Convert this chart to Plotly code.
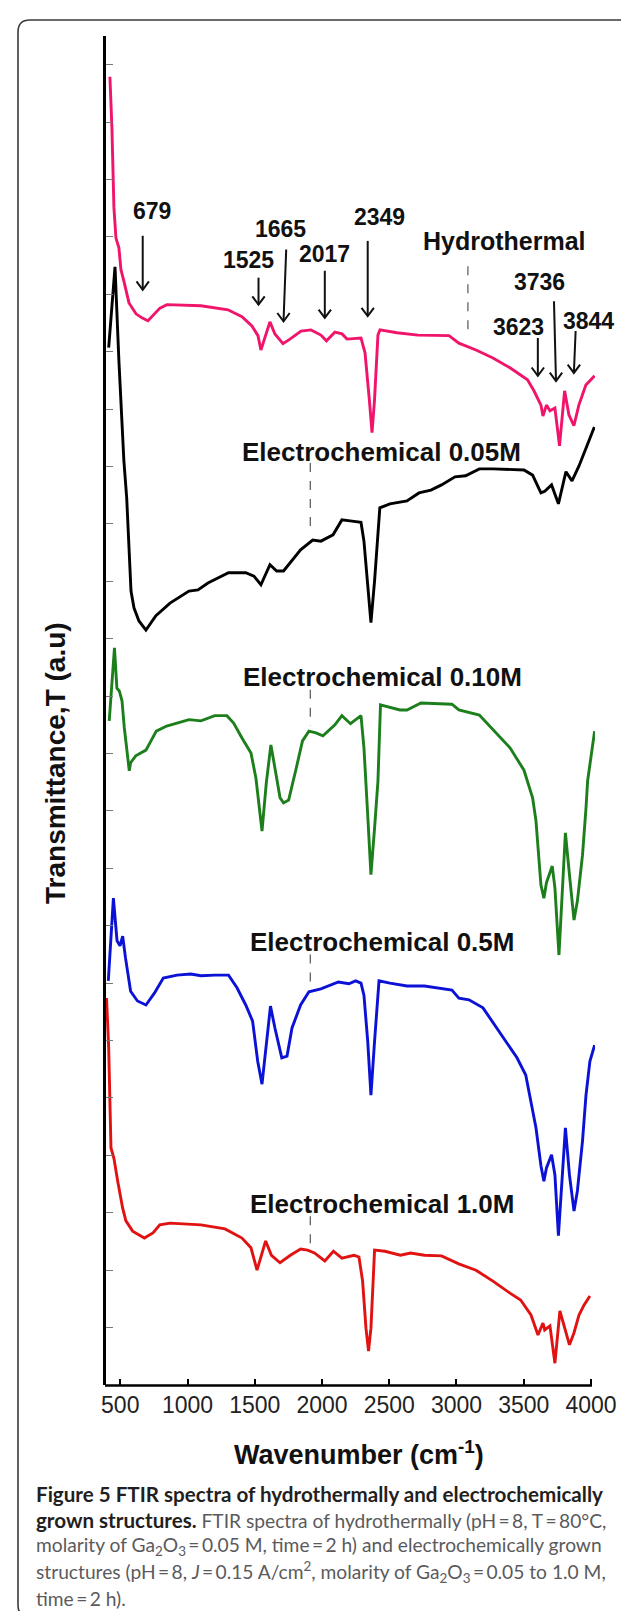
import plotly.graph_objects as go

# ---------------- data (wavenumber cm^-1, transmittance a.u. with stacking offset) ----------------
hydro_wn = [423, 438, 453, 468, 490, 505, 527, 565, 617, 661, 706, 795, 847, 1100, 1301, 1405, 1479, 1524, 1546, 1583,
            1613, 1650, 1710, 1762, 1844, 1918, 1992, 2033, 2096, 2149, 2186, 2290, 2320, 2353, 2372, 2390, 2416, 2431,
            2558, 2713, 2892, 2944, 3018, 3145, 3271, 3398, 3528, 3576, 3628, 3643, 3669, 3695, 3732, 3766, 3804, 3836,
            3873, 3910, 3962, 4027]
hydro_t = [22.79, 21.90, 20.51, 19.98, 19.81, 19.43, 19.23, 18.85, 18.66, 18.59, 18.54, 18.76, 18.82, 18.80, 18.73,
           18.61, 18.45, 18.28, 18.03, 18.29, 18.52, 18.31, 18.14, 18.22, 18.36, 18.38, 18.29, 18.19, 18.34, 18.31,
           18.22, 18.24, 17.98, 17.14, 16.59, 17.14, 18.29, 18.38, 18.33, 18.29, 18.28, 18.28, 18.15, 18.03, 17.89,
           17.72, 17.51, 17.32, 17.07, 16.88, 17.07, 16.97, 17.02, 16.36, 17.32, 16.90, 16.71, 17.07, 17.42, 17.58]

ec005_wn = [414, 461, 490, 527, 548, 565, 580, 602, 639, 691, 765, 870, 1011, 1078, 1152, 1305, 1433, 1494, 1546, 1613,
            1663, 1714, 1762, 1841, 1931, 1992, 2082, 2148, 2223, 2290, 2312, 2340, 2364, 2391, 2430, 2505, 2632, 2721,
            2810, 2889, 2989, 3068, 3170, 3271, 3502, 3566, 3628, 3656, 3707, 3758, 3814, 3859, 3911, 3963, 4025]
ec005_t = [18.07, 19.48, 17.84, 16.10, 15.45, 14.49, 13.83, 13.54, 13.31, 13.15, 13.40, 13.62, 13.83, 13.85, 13.97,
           14.15, 14.15, 14.09, 13.94, 14.29, 14.18, 14.18, 14.32, 14.55, 14.72, 14.70, 14.81, 15.07, 15.05, 15.03,
           14.70, 14.01, 13.28, 14.01, 15.28, 15.35, 15.40, 15.54, 15.59, 15.68, 15.82, 15.84, 15.96, 15.96, 15.94,
           15.85, 15.54, 15.57, 15.68, 15.35, 15.91, 15.75, 16.01, 16.32, 16.69]

ec010_wn = [418, 457, 475, 493, 513, 530, 567, 577, 615, 691, 768, 845, 922, 1011, 1100, 1203, 1293, 1343, 1405, 1472,
            1509, 1535, 1554, 1586, 1620, 1650, 1688, 1714, 1752, 1804, 1855, 1903, 1955, 2007, 2096, 2148, 2212, 2290,
            2312, 2340, 2364, 2391, 2416, 2435, 2580, 2632, 2736, 2966, 3018, 3170, 3271, 3398, 3502, 3566, 3591, 3628,
            3650, 3669, 3712, 3732, 3762, 3810, 3840, 3874, 3899, 3937, 3963, 3975, 4027]
ec010_t = [11.57, 12.84, 12.14, 12.09, 11.92, 11.45, 10.70, 10.84, 10.96, 11.06, 11.39, 11.48, 11.53, 11.59, 11.57,
           11.66, 11.66, 11.53, 11.27, 11.01, 10.57, 10.05, 9.65, 10.49, 11.15, 10.75, 10.23, 10.14, 10.19, 10.70,
           11.22, 11.39, 11.36, 11.31, 11.50, 11.66, 11.52, 11.66, 11.10, 9.93, 8.89, 9.70, 10.52, 11.85, 11.76,
           11.76, 11.88, 11.86, 11.76, 11.67, 11.41, 11.10, 10.71, 10.23, 9.83, 8.71, 8.48, 8.75, 9.04, 8.66,
           7.49, 9.62, 8.89, 8.10, 8.43, 9.23, 10.05, 10.52, 11.39]

ec05_wn = [411, 449, 476, 498, 518, 539, 577, 628, 691, 755, 820, 922, 1024, 1100, 1203, 1305, 1368, 1433, 1484, 1522,
           1554, 1586, 1617, 1650, 1701, 1740, 1777, 1841, 1903, 1992, 2122, 2200, 2250, 2290, 2312, 2340, 2364, 2391,
           2424, 2505, 2632, 2762, 2889, 2966, 3018, 3093, 3197, 3271, 3349, 3450, 3515, 3554, 3591, 3628, 3650, 3669,
           3707, 3732, 3758, 3810, 3840, 3874, 3899, 3937, 3963, 3992, 4027]
ec05_t = [7.04, 8.48, 7.74, 7.65, 7.82, 7.44, 6.86, 6.69, 6.62, 6.83, 7.09, 7.14, 7.16, 7.13, 7.14, 7.14, 6.92, 6.62,
          6.34, 5.64, 5.24, 5.99, 6.60, 6.22, 5.70, 5.73, 6.22, 6.62, 6.85, 6.90, 7.02, 6.99, 7.04, 7.00, 6.79, 5.99,
          5.05, 5.99, 7.04, 7.00, 6.95, 6.95, 6.90, 6.88, 6.74, 6.71, 6.57, 6.31, 6.05, 5.70, 5.40, 4.95, 4.48, 3.82,
          3.55, 3.78, 4.01, 3.66, 2.60, 4.48, 3.66, 3.03, 3.38, 4.25, 5.05, 5.64, 5.92]

ec10_wn = [398, 414, 431, 453, 481, 518, 542, 592, 679, 743, 794, 870, 1100, 1279, 1405, 1472, 1517, 1581, 1624, 1688,
           1765, 1841, 1893, 1944, 2021, 2085, 2148, 2238, 2275, 2302, 2327, 2346, 2364, 2391, 2468, 2583, 2659, 2762,
           2889, 2928, 3017, 3145, 3271, 3398, 3477, 3554, 3606, 3643, 3656, 3695, 3732, 3769, 3804, 3840, 3874, 3911,
           3948, 3992]
ec10_t = [6.74, 5.87, 4.13, 3.95, 3.55, 3.08, 2.86, 2.68, 2.56, 2.65, 2.79, 2.82, 2.79, 2.72, 2.56, 2.39, 2.00, 2.51,
          2.26, 2.13, 2.26, 2.37, 2.35, 2.30, 2.16, 2.33, 2.21, 2.26, 2.23, 1.81, 0.99, 0.59, 0.99, 2.35, 2.33, 2.26,
          2.30, 2.26, 2.25, 2.21, 2.11, 2.00, 1.81, 1.60, 1.48, 1.22, 0.87, 1.08, 0.96, 1.03, 0.38, 1.29, 0.99, 0.70,
          0.91, 1.22, 1.39, 1.55]

x_ticks = [500, 1000, 1500, 2000, 2500, 3000, 3500, 4000]
x_tick_text = ["500", "1000", "1500", "2000", "2500", "3000", "3500", "4000"]

# peak labels: text, label position (wn, T), arrow tail (wn, T), arrow tip (wn, T)
peak_labels = ["679", "1525", "1665", "2017", "2349", "3623", "3736", "3844"]
peak_label_pos = [(736, 20.45), (1457, 19.60), (1688, 20.14), (2022, 19.71), (2424, 20.35),
                  (3463, 18.43), (3621, 19.22), (3983, 18.54)]
arrow_tail = [(667, 20.02), (1528, 19.29), (1734, 19.78), (2021, 19.41), (2340, 19.93),
              (3605, 18.24), (3725, 18.88), (3886, 18.36)]
arrow_tip = [(667, 19.08), (1528, 18.82), (1714, 18.53), (2021, 18.59), (2340, 18.62),
             (3605, 17.58), (3740, 17.49), (3873, 17.63)]

# series names, label positions, dashed leader lines (wn, T top, T bottom)
series_labels = ["Hydrothermal", "Electrochemical 0.05M", "Electrochemical 0.10M",
                 "Electrochemical 0.5M", "Electrochemical 1.0M"]
series_label_pos = [(3355, 19.93), (2446, 16.26), (2449, 12.33), (2446, 7.72), (2446, 3.15)]
leader_lines = [(3085, 19.49, 18.29), (1913, 16.06, 14.83), (1913, 12.11, 11.48),
                (1913, 7.50, 6.92), (1913, 2.94, 2.39)]

DARK = "#231F20"
GRAY = "#5a5a5c"
BOLD_SIZE = 20.6
REG_SIZE = 19.2
bold = lambda s: "<span style='font-size:%.1fpx;color:%s'><b>%s</b></span>" % (BOLD_SIZE, DARK, s)
caption_lines = [
    bold("Figure 5 FTIR spectra of hydrothermally and electrochemically"),
    bold("grown structures.") + " FTIR spectra of hydrothermally (pH\u2009=\u20098, T\u2009=\u200980°C,",
    "molarity of Ga<sub>2</sub>O<sub>3</sub>\u2009=\u20090.05 M, time\u2009=\u20092 h) and electrochemically grown",
    "structures (pH\u2009=\u20098, <i>J</i>\u2009=\u20090.15 A/cm<sup>2</sup>, molarity of Ga<sub>2</sub>O<sub>3</sub>\u2009=\u20090.05 to 1.0 M,",
    "time\u2009=\u20092 h).",
]

# ---------------- layout geometry ----------------
W, H = 629, 1611
ML, MR, MT, MB = 98, 42, 28, 234
PW, PH = W - ML - MR, H - MT - MB


def pxx(x):
    return (x - ML) / PW


def pxy(y):
    return (H - MB - y) / PH


ARIAL = "Liberation Sans, Arial, sans-serif"
CAP = "Lato, Open Sans, sans-serif"

# arrowhead size in data units (about 6 px half width, 8 px tall)
HEAD_DX = 6.2 * (3500 / 470.7)
HEAD_DY = 8.3 / 57.4

fig = go.Figure()
series = [(hydro_wn, hydro_t, "#F0146A"), (ec005_wn, ec005_t, "#000000"), (ec010_wn, ec010_t, "#1C7F1C"),
          (ec05_wn, ec05_t, "#0B12D6"), (ec10_wn, ec10_t, "#E01212")]
for (xs, ys, col), name in zip(series, series_labels):
    fig.add_trace(go.Scatter(x=xs, y=ys, mode="lines", name=name,
                             line=dict(color=col, width=2.9), hoverinfo="skip"))

ann = []
for txt, (lx, ly) in zip(peak_labels, peak_label_pos):
    ann.append(dict(x=lx, y=ly, xref="x", yref="y", text="<b>%s</b>" % txt, showarrow=False,
                    font=dict(family=ARIAL, size=23, color="#111"), xanchor="center", yanchor="middle"))
for i, (txt, (lx, ly)) in enumerate(zip(series_labels, series_label_pos)):
    ann.append(dict(x=lx, y=ly, xref="x", yref="y", text="<b>%s</b>" % txt, showarrow=False,
                    font=dict(family=ARIAL, size=25 if i == 0 else 26, color="#111"),
                    xanchor="center", yanchor="middle"))

# axis titles
ann.append(dict(x=pxx(351), y=pxy(1445), xref="paper", yref="paper", text="<b>Wavenumber (cm<sup>-1</sup>)</b>",
                showarrow=False, font=dict(family=ARIAL, size=27, color="#111"), xanchor="center", yanchor="middle"))
ann.append(dict(x=pxx(48), y=pxy(755), xref="paper", yref="paper", text="<b>Transmittance,T (a.u)</b>",
                showarrow=False, textangle=-90, font=dict(family=ARIAL, size=28, color="#111"),
                xanchor="center", yanchor="middle"))

# caption
cap_y = [1486, 1512, 1538, 1564, 1590]
for line, cy in zip(caption_lines, cap_y):
    ann.append(dict(x=pxx(26), y=pxy(cy), xref="paper", yref="paper", text=line, showarrow=False,
                    font=dict(family=CAP, size=REG_SIZE, color=GRAY), xanchor="left", yanchor="middle"))

shapes = []
# peak arrows: shaft + open V head
for (tx, ty), (hx, hy) in zip(arrow_tail, arrow_tip):
    shapes.append(dict(type="line", xref="x", yref="y", x0=tx, y0=ty, x1=hx, y1=hy,
                       line=dict(color="#111", width=2)))
    shapes.append(dict(type="path", xref="x", yref="y",
                       path="M%.1f,%.3f L%.1f,%.3f L%.1f,%.3f" % (hx - HEAD_DX, hy + HEAD_DY, hx, hy,
                                                              hx + HEAD_DX, hy + HEAD_DY),
                       line=dict(color="#111", width=2)))
for (lx, y0, y1) in leader_lines:
    shapes.append(dict(type="line", xref="x", yref="y", x0=lx, x1=lx, y0=y0, y1=y1,
                       line=dict(color="#555", width=1.2, dash="dash")))
# x-axis line ending at the 4000 tick
shapes.append(dict(type="line", xref="paper", yref="paper", x0=pxx(97), x1=pxx(584), y0=pxy(1377.5), y1=pxy(1377.5),
                   line=dict(color="#000", width=2.6)))
# rounded figure frame
fl, ft, fr, fb, rr = 10, 12, 628, 1609, 12
pts = lambda x, y: "%.5f,%.5f" % (pxx(x), pxy(y))
path = ("M" + pts(fl, ft + rr) + " Q" + pts(fl, ft) + " " + pts(fl + rr, ft) + " L" + pts(fr - rr, ft) +
        " Q" + pts(fr, ft) + " " + pts(fr, ft + rr) + " L" + pts(fr, fb - rr) + " Q" + pts(fr, fb) + " " +
        pts(fr - rr, fb) + " L" + pts(fl + rr, fb) + " Q" + pts(fl, fb) + " " + pts(fl, fb - rr) + " Z")
shapes.append(dict(type="path", xref="paper", yref="paper", path=path, line=dict(color="#3a3a3a", width=1.6)))

fig.update_layout(
    width=W, height=H, margin=dict(l=ML, r=MR, t=MT, b=MB, pad=0),
    paper_bgcolor="white", plot_bgcolor="white", showlegend=False,
    annotations=ann, shapes=shapes,
    xaxis=dict(range=[394, 4030], tickvals=x_ticks, ticktext=x_tick_text, ticks="inside", ticklen=6,
               tickwidth=1.5, tickcolor="#000", showline=False, showgrid=False, zeroline=False,
               tickfont=dict(family=ARIAL, size=23, color="#222"), ticklabelstandoff=4),
    yaxis=dict(range=[0, 23.5], tickvals=list(range(1, 24)), ticks="inside", ticklen=7, tickwidth=1,
               tickcolor="#777", showticklabels=False, showline=True, linecolor="#000", linewidth=2.6,
               showgrid=False, zeroline=False),
)

fig.write_html("out.html")
